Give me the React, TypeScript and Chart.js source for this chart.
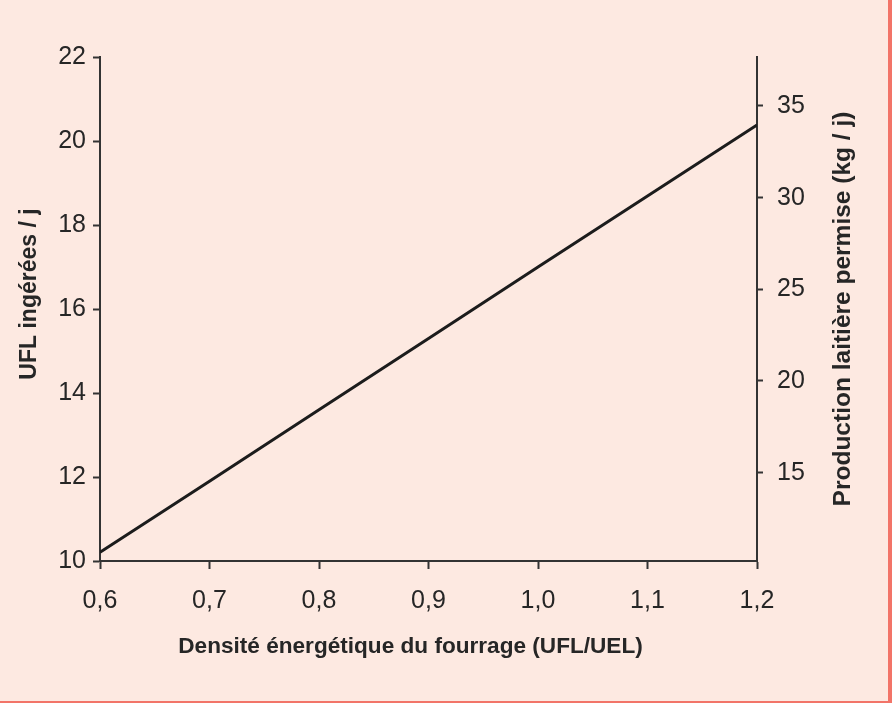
import React, { useEffect, useRef } from "react";
import { Chart, registerables } from "chart.js";

Chart.register(...registerables);

// Data
const densite: number[] = [0.6, 0.7, 0.8, 0.9, 1.0, 1.1, 1.2];
const uflIngerees: number[] = [10.21, 11.9, 13.6, 15.3, 17.0, 18.69, 20.38];

const xTicks: number[] = [0.6, 0.7, 0.8, 0.9, 1.0, 1.1, 1.2];
const yLeftTicks: number[] = [10, 12, 14, 16, 18, 20, 22];
const yRightTicks: number[] = [15, 20, 25, 30, 35];
const yRightRange: number[] = [10.18, 37.67];

const xTitle = "Densité énergétique du fourrage (UFL/UEL)";
const yLeftTitle = "UFL ingérées / j";
const yRightTitle = "Production laitière permise (kg / j)";

const FONT = "'Liberation Sans', Arial, sans-serif";
const AXIS = "#333333";
const TEXT = "#262626";

const titlesPlugin = {
  id: "customTitles",
  afterDraw(chart: any) {
    const { ctx, chartArea } = chart;
    const cy = (chartArea.top + chartArea.bottom) / 2;
    const cx = (chartArea.left + chartArea.right) / 2;
    ctx.save();
    ctx.fillStyle = TEXT;
    ctx.textAlign = "center";
    ctx.textBaseline = "middle";
    // bottom title
    ctx.font = `bold 22.6px ${FONT}`;
    ctx.fillText(xTitle, cx - 18, chartArea.bottom + 86);
    // left title
    ctx.save();
    ctx.translate(chartArea.left - 70, cy - 15);
    ctx.rotate(-Math.PI / 2);
    ctx.font = `bold 23px ${FONT}`;
    ctx.fillText(yLeftTitle, 0, 0);
    ctx.restore();
    // right title
    ctx.save();
    ctx.translate(chartArea.right + 86, cy);
    ctx.rotate(-Math.PI / 2);
    ctx.font = `bold 24.5px ${FONT}`;
    ctx.fillText(yRightTitle, 0, 0);
    ctx.restore();
    ctx.restore();
  },
};

export default function App() {
  const canvasRef = useRef<HTMLCanvasElement | null>(null);

  useEffect(() => {
    if (!canvasRef.current) return;
    const tickFont = { family: FONT, size: 25 };
    const chart = new Chart(canvasRef.current, {
      type: "line",
      data: {
        datasets: [
          {
            data: densite.map((d, i) => ({ x: d, y: uflIngerees[i] })),
            borderColor: "#1c1c1c",
            borderWidth: 3,
            pointRadius: 0,
            fill: false,
            tension: 0,
            yAxisID: "y",
            xAxisID: "x",
          },
        ],
      },
      options: {
        animation: false,
        responsive: false,
        maintainAspectRatio: false,
        layout: { padding: { top: 57, left: 0, right: 0, bottom: 0 } },
        plugins: {
          legend: { display: false },
          tooltip: { enabled: false },
          title: { display: false },
        },
        scales: {
          x: {
            type: "linear",
            position: "bottom",
            min: xTicks[0],
            max: xTicks[xTicks.length - 1],
            afterBuildTicks: (s: any) => {
              s.ticks = xTicks.map((v) => ({ value: v }));
            },
            afterFit: (s: any) => {
              s.height = 140;
            },
            grid: {
              display: true,
              drawOnChartArea: false,
              drawTicks: true,
              tickLength: 8,
              tickWidth: 2,
              tickColor: AXIS,
            },
            border: { display: true, color: AXIS, width: 2 },
            ticks: {
              font: tickFont,
              color: TEXT,
              padding: 17,
              maxRotation: 0,
              autoSkip: false,
              callback: (v: any) => Number(v).toFixed(1).replace(".", ","),
            },
          },
          y: {
            type: "linear",
            position: "left",
            min: yLeftTicks[0],
            max: yLeftTicks[yLeftTicks.length - 1],
            afterBuildTicks: (s: any) => {
              s.ticks = yLeftTicks.map((v) => ({ value: v }));
            },
            afterFit: (s: any) => {
              s.width = 100;
            },
            grid: {
              display: true,
              drawOnChartArea: false,
              drawTicks: true,
              tickLength: 7,
              tickWidth: 2,
              tickColor: AXIS,
            },
            border: { display: true, color: AXIS, width: 2 },
            ticks: {
              font: tickFont,
              color: TEXT,
              padding: 7,
              autoSkip: false,
              callback: (v: any) => String(v),
            },
          },
          y2: {
            type: "linear",
            position: "right",
            min: yRightRange[0],
            max: yRightRange[1],
            afterBuildTicks: (s: any) => {
              s.ticks = yRightTicks.map((v) => ({ value: v }));
            },
            afterFit: (s: any) => {
              s.width = 131;
            },
            grid: {
              display: true,
              drawOnChartArea: false,
              drawTicks: true,
              tickLength: 6,
              tickWidth: 2,
              tickColor: AXIS,
            },
            border: { display: true, color: AXIS, width: 2 },
            ticks: {
              font: tickFont,
              color: TEXT,
              padding: 14,
              autoSkip: false,
              callback: (v: any) => String(v),
            },
          },
        },
      },
      plugins: [titlesPlugin],
    } as any);
    return () => chart.destroy();
  }, []);

  return (
    <div
      style={{
        position: "fixed",
        left: 0,
        top: 0,
        width: 892,
        height: 703,
        boxSizing: "border-box",
        background: "#fde9e1",
        borderRight: "4px solid #f27468",
        borderBottom: "2px solid #f27468",
      }}
    >
      <canvas ref={canvasRef} width={888} height={701} style={{ display: "block", width: 888, height: 701 }} />
    </div>
  );
}
